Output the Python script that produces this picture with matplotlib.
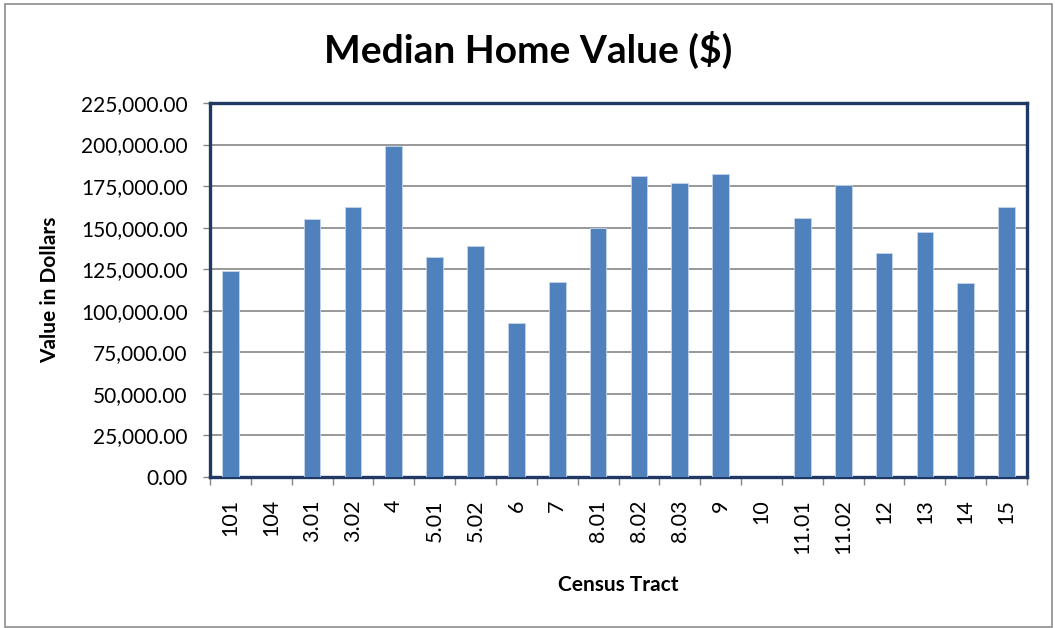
import numpy as np
import matplotlib
matplotlib.use("Agg")
from matplotlib import pyplot as plt
from matplotlib.patches import Rectangle

plt.rcParams['font.family'] = ['Lato', 'DejaVu Sans']

tracts = ["101", "104", "3.01", "3.02", "4", "5.01", "5.02", "6", "7", "8.01",
          "8.02", "8.03", "9", "10", "11.01", "11.02", "12", "13", "14", "15"]
home_values = [124000, 0, 155200, 162500, 199200, 132100, 139200, 92800, 117300, 149900,
               180900, 176900, 182100, 0, 155600, 175700, 134500, 147600, 116500, 162700]

BAR_COLOR = "#4F81BD"
GRID_COLOR = "#868686"
FRAME_COLOR = "#1F3864"

W, H = 1055, 628
fig = plt.figure(figsize=(W / 100, H / 100), dpi=100)
ax = fig.add_axes([210 / W, 1 - 477 / H, 817 / W, 374 / H])

x = np.arange(len(tracts))
ax.bar(x, home_values, width=0.41, color=BAR_COLOR, edgecolor="#C6D5EA",
       linewidth=0.6, zorder=3)

yticks = np.arange(0, 225001, 25000)
ax.set_xlim(-0.5, len(tracts) - 0.5)
ax.set_ylim(0, 225000)
ax.set_yticks(yticks)
ax.set_yticklabels([f"{v:,.2f}" for v in yticks], fontsize=15)
ax.set_xticks(x)
ax.set_xticklabels(tracts, rotation=90, fontsize=15.5, va="top")
ax.set_xticks(np.arange(-0.5, len(tracts)), minor=True)
ax.tick_params(axis="x", which="major", length=0, pad=16)
ax.tick_params(axis="x", which="minor", length=6, color=GRID_COLOR, width=1)
ax.tick_params(axis="y", length=5, color=GRID_COLOR, width=1, pad=11)

ax.yaxis.grid(True, color=GRID_COLOR, linewidth=1.2, zorder=0)
ax.set_axisbelow(True)

for side in ["top", "right", "left", "bottom"]:
    ax.spines[side].set_color(FRAME_COLOR)
    ax.spines[side].set_linewidth(2.4)

fig.text(50 / W, 1 - 290 / H, "Value in Dollars", rotation=90, ha="center",
         va="center", fontsize=15, fontweight="bold")
fig.text(618 / W, 1 - 585 / H, "Census Tract", ha="center", va="center",
         fontsize=15, fontweight="bold")
fig.text(528 / W, 1 - 50 / H, "Median Home Value ($)", ha="center", va="center",
         fontsize=28, fontweight="bold")

# outer chart border
fig.patches.append(Rectangle((5 / W, 1 / H), 1047 / W, 623 / H,
                             transform=fig.transFigure, fill=False,
                             edgecolor="#8C8C8C", linewidth=1.2))

fig.savefig("out.png", dpi=100)
